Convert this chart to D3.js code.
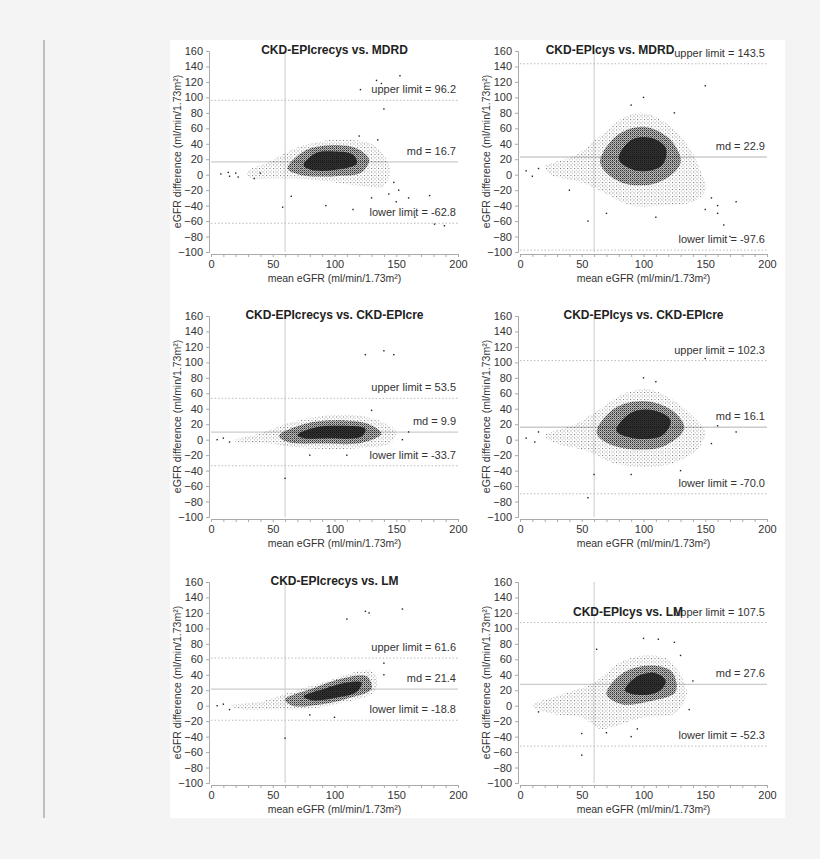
<!DOCTYPE html>
<html><head><meta charset="utf-8">
<script src="https://cdn.jsdelivr.net/npm/d3@7/dist/d3.min.js"></script>
<style>body{margin:0;background:#f4f4f4}svg{display:block}</style>
</head><body><svg id="c" width="820" height="859"></svg>
<script>
const titles=["CKD-EPIcrecys vs. MDRD","CKD-EPIcys vs. MDRD","CKD-EPIcrecys vs. CKD-EPIcre","CKD-EPIcys vs. CKD-EPIcre","CKD-EPIcrecys vs. LM","CKD-EPIcys vs. LM"];
const md=[16.7,22.9,9.9,16.1,21.4,27.6];
const upper=[96.2,143.5,53.5,102.3,61.6,107.5];
const lower=[-62.8,-97.6,-33.7,-70.0,-18.8,-52.3];
const xTicks=[0,50,100,150,200];
const yTicks=[160,140,120,100,80,60,40,20,0,-20,-40,-60,-80,-100];
// cloud outlines (mean eGFR, difference)
const outerClouds=[
[[30,5],[45,15],[60,28],[75,38],[95,45],[115,45],[130,40],[140,25],[145,5],[140,-15],[125,-15],[100,-10],[70,-5],[50,-5],[30,-3]],
[[20,10],[45,25],[65,50],[85,75],[100,80],[120,65],[135,40],[145,10],[150,-20],[140,-35],[115,-40],[90,-40],[70,-25],[50,-10],[25,0]],
[[20,0],[40,8],[60,20],[80,28],[100,32],[125,30],[140,22],[150,10],[145,-5],[125,-10],[100,-12],[70,-10],[45,-5],[20,-3]],
[[20,5],[45,20],[65,40],[85,60],[105,65],[125,50],[140,30],[150,10],[145,-10],[125,-30],[100,-35],[75,-30],[55,-15],[30,-5]],
[[15,0],[40,5],[60,15],[80,25],[100,35],[120,45],[130,45],[135,30],[130,15],[110,5],[90,-2],[70,-5],[50,-5],[25,-5]],
[[10,0],[35,15],[60,30],[80,55],[100,65],[120,60],[130,40],[135,15],[125,-10],[100,-15],[80,-25],[65,-30],[50,-15],[25,-10]]];
const innerClouds=[
[[62,8],[75,30],[95,38],[118,34],[128,20],[122,3],[100,-2],[72,0]],
[[65,15],[78,50],[100,62],[122,45],[130,15],[112,-10],[82,-10]],
[[55,5],[75,20],[100,25],[128,20],[138,8],[122,-4],[90,-5],[62,-3]],
[[62,10],[76,40],[100,50],[123,38],[133,15],[117,-8],[88,-12],[68,-2]],
[[60,8],[85,24],[105,35],[126,38],[130,22],[112,10],[90,2],[66,0]],
[[70,15],[83,42],[105,52],[123,44],[126,18],[106,6],[82,2]]];
const coreClouds=[
[[75,12],[85,28],[100,30],[115,26],[118,14],[100,6],[82,6]],
[[80,20],[90,45],[105,48],[118,35],[115,12],[95,5]],
[[70,6],[85,16],[105,18],[125,14],[122,4],[95,2],[75,2]],
[[78,12],[90,35],[108,38],[122,25],[115,5],[92,2]],
[[75,12],[92,22],[110,30],[122,30],[118,18],[100,10],[82,7]],
[[85,20],[95,38],[110,42],[118,32],[112,18],[95,14]]];
const outliers=[
[[8,1],[14,3],[15,-2],[20,2],[22,-3],[58,-42],[93,-40],[115,-45],[150,-35],[160,-30],[177,-27],[181,-64],[189,-66],[121,110],[134,122],[138,118],[140,85],[153,128],[165,-55],[148,-10],[152,-20],[144,-25],[40,2],[35,-5],[65,-28],[130,-30],[135,45],[120,50]],
[[5,5],[10,-2],[55,-60],[160,-50],[165,-65],[170,-80],[150,115],[175,-35],[100,100],[155,-30],[150,-45],[160,-40],[40,-20],[70,-50],[110,-55],[90,90],[125,80],[15,8]],
[[5,0],[10,2],[125,110],[140,115],[148,110],[60,-50],[160,10],[80,-20],[155,0],[110,-20],[130,38],[15,-3]],
[[5,2],[12,-3],[55,-75],[160,18],[175,10],[90,-45],[150,105],[100,80],[110,75],[60,-45],[130,-40],[155,-5],[15,10]],
[[5,0],[10,2],[60,-42],[125,122],[128,120],[155,125],[110,112],[140,55],[80,-12],[100,-15],[140,40],[15,-5]],
[[50,-36],[50,-64],[100,87],[112,86],[125,82],[62,73],[140,32],[137,-5],[70,-35],[90,-40],[95,-30],[15,-8],[130,65]]];

const svg=d3.select("#c");
svg.append("rect").attr("x",170).attr("y",40).attr("width",615).attr("height",778).attr("fill","#fff");
svg.append("line").attr("x1",44).attr("x2",44).attr("y1",40).attr("y2",818).attr("stroke","#888");
const defs=svg.append("defs");
const pat=defs.append("pattern").attr("id","dots").attr("width",3.5).attr("height",3.5).attr("patternUnits","userSpaceOnUse");
pat.append("rect").attr("width",1).attr("height",1).attr("fill","#111");
pat.append("rect").attr("x",1.8).attr("y",2).attr("width",0.8).attr("height",0.8).attr("fill","#333");
const pat2=defs.append("pattern").attr("id","dense").attr("width",2).attr("height",2).attr("patternUnits","userSpaceOnUse");
pat2.append("rect").attr("width",1.3).attr("height",1.3).attr("fill","#111");
pat2.append("rect").attr("x",1).attr("y",1).attr("width",0.8).attr("height",0.8).attr("fill","#222");
const font="Arial, 'Liberation Sans', sans-serif";
const cols=[211,520], rows=[51,316,582], W=247, H=201;
titles.forEach((t,i)=>{
  const x0=cols[i%2], y0=rows[Math.floor(i/2)];
  const g=svg.append("g");
  const x=d3.scaleLinear().domain([0,200]).range([x0,x0+W]);
  const y=d3.scaleLinear().domain([-100,160]).range([y0+H,y0]);
  const ya=g.append("g").attr("transform",`translate(${x0-2},0)`).call(d3.axisLeft(y).tickValues(yTicks).tickSize(3).tickFormat(d3.format("d")));
  const xa=g.append("g").attr("transform",`translate(0,${y0+H+2})`).call(d3.axisBottom(x).tickValues(d3.range(0,201,10)).tickSize(3).tickFormat(d=>xTicks.includes(d)?d:""));
  [ya,xa].forEach(a=>{a.selectAll("path,line").attr("stroke","#aaa");a.selectAll("text").attr("fill","#333").style("font-family",font).style("font-size","11px");});
  xa.selectAll("text").attr("dy","0.75em");
  g.append("line").attr("x1",x(60)).attr("x2",x(60)).attr("y1",y0).attr("y2",y0+H).attr("stroke","#ccc");
  g.append("line").attr("x1",x(0)).attr("x2",x(200)).attr("y1",y(md[i])).attr("y2",y(md[i])).attr("stroke","#ccc").attr("stroke-width",1.3);
  [upper[i],lower[i]].forEach(v=>g.append("line").attr("x1",x(0)).attr("x2",x(200)).attr("y1",y(v)).attr("y2",y(v)).attr("stroke","#bbb").attr("stroke-dasharray","1.5,2"));
  const line=d3.line().x(d=>x(d[0])).y(d=>y(d[1])).curve(d3.curveCatmullRomClosed);
  g.append("path").attr("d",line(outerClouds[i])).attr("fill","url(#dots)").attr("opacity",0.6);
  g.append("path").attr("d",line(innerClouds[i])).attr("fill","url(#dense)").attr("opacity",0.85);
  g.append("path").attr("d",line(coreClouds[i])).attr("fill","#111").attr("opacity",0.8);
  g.selectAll("rect.o").data(outliers[i]).join("rect").attr("x",d=>x(d[0])-0.7).attr("y",d=>y(d[1])-0.7).attr("width",1.4).attr("height",1.4).attr("fill","#222");
  const lab=(v,s)=>g.append("text").attr("x",x(200)-2).attr("y",y(v)-7).attr("text-anchor","end").attr("fill","#333").style("font-family",font).style("font-size","11px").text(s);
  lab(upper[i],"upper limit = "+upper[i].toFixed(1));
  lab(md[i],"md = "+md[i].toFixed(1));
  lab(lower[i],"lower limit = "+lower[i].toFixed(1));
  const tx= i===1?x0+90: i===5?x0+108: x0+W/2;
  const ty= i===5? y(116): y0+3;
  g.append("text").attr("x",tx).attr("y",ty).attr("text-anchor","middle").attr("font-weight","bold").attr("fill","#222").style("font-family",font).style("font-size","12px").text(t);
  g.append("text").attr("x",x0+W/2).attr("y",y0+H+30).attr("text-anchor","middle").attr("fill","#333").style("font-family",font).style("font-size","10.5px").text("mean eGFR (ml/min/1.73m²)");
  g.append("text").attr("transform",`translate(${x0-30},${y0+H/2}) rotate(-90)`).attr("text-anchor","middle").attr("fill","#333").style("font-family",font).style("font-size","10.5px").text("eGFR difference (ml/min/1.73m²)");
});
</script></body></html>
